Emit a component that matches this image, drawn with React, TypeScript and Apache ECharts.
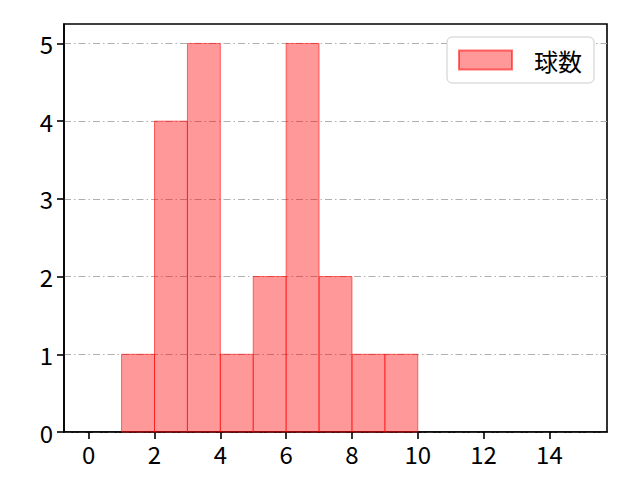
import * as echarts from "echarts"
import { useEffect, useRef } from "react"

// Histogram of 球数: bins of width 1, counts.
const binStarts = [1, 2, 3, 4, 5, 6, 7, 8, 9]
const binEnds = [2, 3, 4, 5, 6, 7, 8, 9, 10]
const counts = [1, 4, 5, 1, 2, 5, 2, 1, 1]
const xTicks = [0, 2, 4, 6, 8, 10, 12, 14]
const yTicks = [0, 1, 2, 3, 4, 5]
const seriesName = "球数"

const FONT = "'Noto Sans CJK JP', 'Noto Sans', sans-serif"

export default function App() {
  const ref = useRef<HTMLDivElement>(null)

  useEffect(() => {
    if (!ref.current) return
    const chart = echarts.init(ref.current, undefined, { renderer: "svg" })

    chart.setOption({
      animation: false,
      textStyle: { fontFamily: FONT },
      grid: {
        left: 64,
        top: 24,
        right: 33,
        bottom: 48,
        show: true,
        borderColor: "#000",
        borderWidth: 1.6,
        backgroundColor: "transparent",
      },
      legend: {
        data: [seriesName],
        left: 447,
        top: 37,
        icon: "rect",
        itemWidth: 53,
        itemHeight: 19,
        padding: [11, 12, 11, 11],
        backgroundColor: "#fff",
        borderColor: "#cccccc",
        borderWidth: 1,
        borderRadius: 5,
        textStyle: { color: "#000", fontSize: 24, fontFamily: FONT, padding: [0, 0, 0, 17] },
      },
      xAxis: {
        type: "value",
        min: -0.75,
        max: 15.75,
        splitLine: { show: false },
        axisLine: { onZero: false, lineStyle: { color: "#000", width: 1.6 } },
        axisTick: { length: 7, lineStyle: { color: "#000", width: 1.6 }, customValues: xTicks },
        axisLabel: { color: "#000", fontSize: 24, margin: 9, customValues: xTicks },
      },
      yAxis: {
        type: "value",
        min: 0,
        max: 5.25,
        interval: 1,
        axisLine: { show: true, onZero: false, lineStyle: { color: "#000", width: 1.6 } },
        axisTick: { show: true, length: 7, lineStyle: { color: "#000", width: 1.6 }, customValues: yTicks },
        axisLabel: { color: "#000", fontSize: 24, margin: 11, customValues: yTicks },
        splitLine: {
          show: true,
          lineStyle: { color: "#b0b0b0", width: 1.1, type: [7, 3, 1.5, 3] },
        },
      },
      series: [
        {
          name: seriesName,
          type: "custom",
          itemStyle: { color: "rgba(255,0,0,0.4)", borderColor: "rgba(255,0,0,0.55)", borderWidth: 1 },
          encode: { x: [0, 1], y: 2 },
          data: binStarts.map((s, i) => [s, binEnds[i], counts[i]]),
          renderItem: (_params: any, api: any) => {
            const top = api.coord([api.value(0), api.value(2)])
            const bottom = api.coord([api.value(1), 0])
            return {
              type: "rect",
              shape: { x: top[0], y: top[1], width: bottom[0] - top[0], height: bottom[1] - top[1] },
              style: { fill: "rgba(255,0,0,0.4)", stroke: "rgba(255,0,0,0.55)", lineWidth: 1 },
            }
          },
        },
      ],
    })

    return () => chart.dispose()
  }, [])

  return <div ref={ref} style={{ width: 640, height: 480, margin: -8 }} />
}
